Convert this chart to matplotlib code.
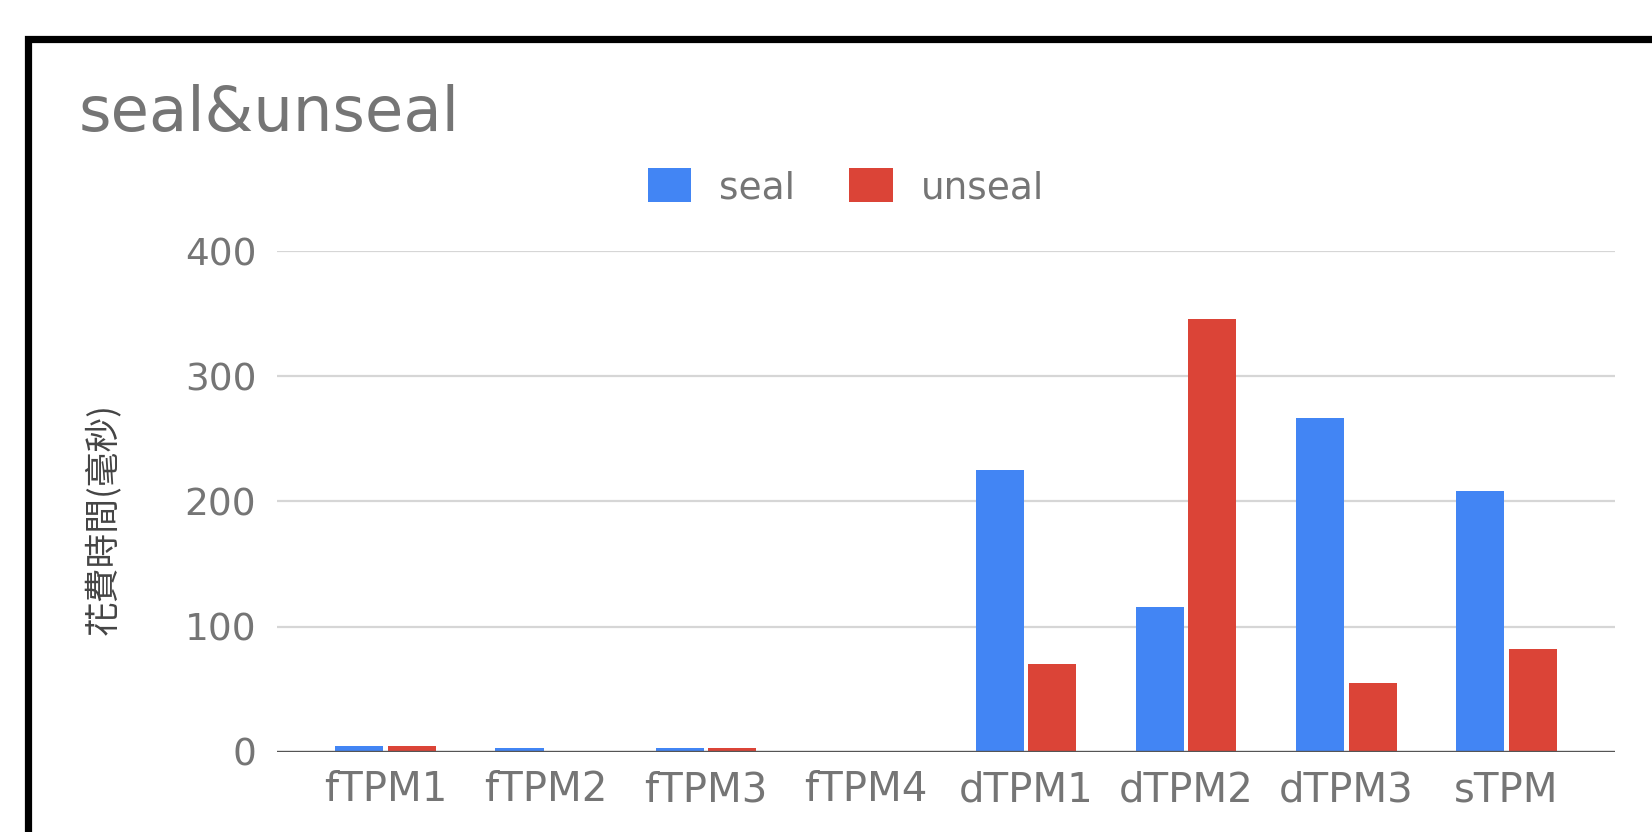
import matplotlib.pyplot as plt
import numpy as np
from matplotlib.patches import Rectangle

# timing per TPM type (ms)
labels = ["fTPM1", "fTPM2", "fTPM3", "fTPM4", "dTPM1", "dTPM2", "dTPM3", "sTPM"]
seal = [5, 3, 3, 0, 225, 116, 267, 208]
unseal = [5, 0, 3, 0, 70, 346, 55, 82]
yticks = [0, 100, 200, 300, 400]

blue = "#4285F4"
red = "#DB4437"
grey = "#757575"

plt.rcParams["font.family"] = ["DejaVu Sans"]

fig = plt.figure(figsize=(16.52, 8.32), dpi=100)
ax = fig.add_axes([0.1677, 0.0962, 0.8099, 0.6021])

width = 0.3
p = np.arange(len(labels))
ax.bar(p - 0.165, seal, width, color=blue, label="seal", zorder=3)
ax.bar(p + 0.165, unseal, width, color=red, label="unseal", zorder=3)

ax.set_xlim(-0.68, 7.68)
ax.set_ylim(0, 400)
ax.set_xticks(p, labels)
ax.set_yticks(yticks)
ax.tick_params(axis="both", length=0, labelcolor=grey)
ax.tick_params(axis="x", pad=13, labelsize=29)
ax.tick_params(axis="y", pad=15, labelsize=27)

ax.grid(axis="y", color="#d6d6d6", linewidth=1.6, zorder=0)
for s in ax.spines.values():
    s.set_visible(False)
ax.axhline(0, color="#555555", linewidth=2.4, zorder=4)

ax.set_ylabel("花費時間(毫秒)", fontsize=25, color="#444444",
              family=["Noto Sans CJK TC", "DejaVu Sans"])
ax.yaxis.label.set_va("center")
ax.yaxis.set_label_coords(-0.13, 0.465)

fig.text(79 / 1652, 1 - 131 / 832, "seal&unseal", fontsize=45, color=grey,
         ha="left", va="baseline")

fig.legend(loc="center", bbox_to_anchor=(0.512, 0.775), ncol=2, frameon=False,
           fontsize=27, labelcolor=grey, handlelength=1.15, handleheight=1.0,
           handletextpad=0.75, columnspacing=1.45)

# black frame, cut off at the right and bottom
fig.patches.append(Rectangle((27.5 / 1652, -0.5), 2, 0.5 + 1 - 38.5 / 832,
                             fill=False, edgecolor="black", linewidth=5.2,
                             transform=fig.transFigure, figure=fig))

plt.savefig("out.png", dpi=100)
